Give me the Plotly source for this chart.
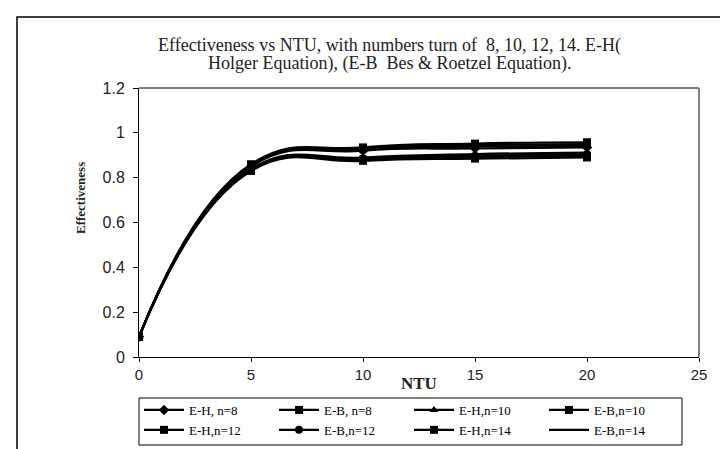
import plotly.graph_objects as go

ntu = [0, 5, 10, 15, 20]

eh_n8 = [0.09, 0.850, 0.920, 0.930, 0.935]
eb_n8 = [0.09, 0.830, 0.875, 0.885, 0.890]
eh_n10 = [0.09, 0.853, 0.925, 0.938, 0.942]
eb_n10 = [0.09, 0.833, 0.880, 0.892, 0.897]
eh_n12 = [0.09, 0.856, 0.930, 0.945, 0.950]
eb_n12 = [0.09, 0.836, 0.885, 0.898, 0.905]
eh_n14 = [0.09, 0.860, 0.935, 0.952, 0.958]
eb_n14 = [0.09, 0.840, 0.890, 0.905, 0.912]

series_names = ["E-H, n=8", "E-B, n=8", "E-H,n=10", "E-B,n=10",
                "E-H,n=12", "E-B,n=12", "E-H,n=14", "E-B,n=14"]
series_values = [eh_n8, eb_n8, eh_n10, eb_n10, eh_n12, eb_n12, eh_n14, eb_n14]
symbols = ["diamond", "square", "triangle-up", "square", "square", "circle", "square", None]

title_line1 = "Effectiveness vs NTU, with numbers turn of  8, 10, 12, 14. E-H("
title_line2 = "Holger Equation), (E-B  Bes &amp; Roetzel Equation)."

fig = go.Figure()
for name, vals, sym in zip(series_names, series_values, symbols):
    line = dict(color="black", width=2.2, shape="spline", smoothing=1.3)
    if sym is None:
        fig.add_trace(go.Scatter(x=ntu, y=vals, name=name, mode="lines", line=line))
    else:
        fig.add_trace(go.Scatter(x=ntu, y=vals, name=name, mode="lines+markers", line=line,
                                 marker=dict(symbol=sym, size=8, color="black")))

serif = "Liberation Serif, Times New Roman, serif"
sans = "Liberation Sans, Arial, sans-serif"

L, R, T, B = 131, 691, 80, 349
W, H = 728, 449


def px(x):
    return (x - L) / (R - L)


def py(y):
    return (B - y) / (B - T)


fig.update_layout(
    width=W, height=H,
    margin=dict(l=L, r=W - R, t=T, b=H - B, autoexpand=False),
    paper_bgcolor="white", plot_bgcolor="white",
    showlegend=True,
    legend=dict(orientation="h", x=0, xanchor="left", y=py(387), yanchor="top",
                entrywidth=80, entrywidthmode="pixels",
                font=dict(family=serif, size=13, color="black"),
                borderwidth=0, bgcolor="rgba(0,0,0,0)",
                tracegroupgap=0, itemwidth=40),
    xaxis=dict(range=[0, 25], tickvals=[0, 5, 10, 15, 20, 25], showgrid=False, zeroline=False,
               showline=True, linecolor="black", linewidth=1, ticks="outside", ticklen=4,
               tickcolor="black", tickfont=dict(family=sans, size=15, color="#222")),
    yaxis=dict(range=[0, 1.2], tickvals=[0, 0.2, 0.4, 0.6, 0.8, 1, 1.2],
               ticktext=["0", "0.2", "0.4", "0.6", "0.8", "1", "1.2"],
               showgrid=False, zeroline=False,
               showline=True, linecolor="black", linewidth=1, ticks="outside", ticklen=5,
               tickcolor="black", tickfont=dict(family=sans, size=16, color="#222"),
               ticklabelstandoff=5),
    shapes=[
        dict(type="line", xref="paper", yref="paper", x0=0, x1=1, y0=1, y1=1,
             line=dict(color="#808080", width=2)),
        dict(type="line", xref="paper", yref="paper", x0=1, x1=1, y0=0, y1=1,
             line=dict(color="#808080", width=2)),
        dict(type="rect", xref="paper", yref="paper", x0=px(9), x1=px(760), y0=py(480), y1=py(9),
             line=dict(color="black", width=1.5), layer="below"),
        dict(type="rect", xref="paper", yref="paper", x0=px(131), x1=px(674), y0=py(437), y1=py(390),
             line=dict(color="black", width=1), layer="below"),
    ],
    annotations=[
        dict(text=title_line1, xref="paper", yref="paper", x=px(381), y=py(38),
             xanchor="center", yanchor="middle", showarrow=False,
             font=dict(family=serif, size=18, color="#222")),
        dict(text=title_line2, xref="paper", yref="paper", x=px(381), y=py(56),
             xanchor="center", yanchor="middle", showarrow=False,
             font=dict(family=serif, size=18, color="#222")),
        dict(text="<b>Effectiveness</b>", xref="paper", yref="paper",
             x=px(72), y=py(190), textangle=-90,
             xanchor="center", yanchor="middle", showarrow=False,
             font=dict(family=serif, size=13, color="#222")),
        dict(text="<b>NTU</b>", xref="paper", yref="paper",
             x=px(411), y=py(375),
             xanchor="center", yanchor="middle", showarrow=False,
             font=dict(family=serif, size=17, color="#222")),
    ],
)

fig.write_html("out.html")
